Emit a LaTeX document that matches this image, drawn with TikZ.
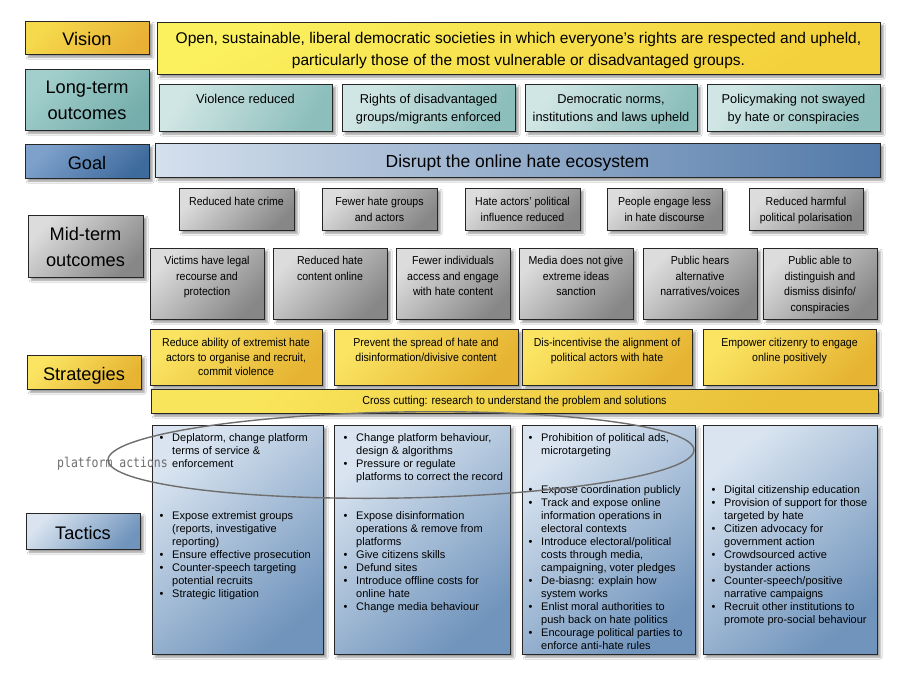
\documentclass[tikz,border=0pt]{standalone}
\usepackage{fontspec}
\setmainfont{Liberation Sans}
\newfontfamily\nfont[FakeStretch=0.92]{Liberation Sans}
\newfontfamily\handf[FakeStretch=0.85]{DejaVu Sans Mono}
\usetikzlibrary{shadows.blur,shapes.geometric}

\definecolor{VisLA}{HTML}{F6DA4C}\definecolor{VisLB}{HTML}{E8B136}
\definecolor{VisBA}{HTML}{FBF05E}\definecolor{VisBB}{HTML}{F3D13C}
\definecolor{LtLA}{HTML}{A2CFCC}\definecolor{LtLB}{HTML}{74ADAB}
\definecolor{LtBA}{HTML}{D0E6E4}\definecolor{LtBB}{HTML}{8CBEBC}
\definecolor{GoLA}{HTML}{7EA1CB}\definecolor{GoLB}{HTML}{3E6B9D}
\definecolor{GoBA}{HTML}{D5E0ED}\definecolor{GoBB}{HTML}{5279A8}
\definecolor{MidA}{HTML}{DCDCDC}\definecolor{MidB}{HTML}{878787}
\definecolor{StA}{HTML}{FAE462}\definecolor{StB}{HTML}{E6B332}
\definecolor{CrA}{HTML}{F9E55B}\definecolor{CrB}{HTML}{E9C038}
\definecolor{TaA}{HTML}{D9E4F0}\definecolor{TaB}{HTML}{7094BC}
\definecolor{Sketch}{HTML}{6E6E6E}

\newcommand\bx[9]{%
  \node[#1, anchor=north west, minimum width={(#6)-(#4)}, minimum height={(#7)-(#5)}] (#3) at (#4,#5) {};
  \node[#2] (#3t) at ({((#4)+(#6))/2},#8) {#9};
}
\newcommand\tl[1]{\begin{tabular}{@{}p{12.5pt}@{}l@{}}#1\end{tabular}}

\tikzset{
  base/.style={draw=black!85, line width=1.4pt, inner sep=0pt,
    blur shadow={shadow xshift=2.5pt, shadow yshift=-2.5pt, shadow blur radius=2pt, shadow opacity=40}},
  labvis/.style={base, top color=VisLA, bottom color=VisLB, shading angle=45},
  lablt/.style={base, top color=LtLA, bottom color=LtLB, shading angle=45},
  labgoal/.style={base, top color=GoLA, bottom color=GoLB, shading angle=45},
  labmid/.style={base, top color=MidA, bottom color=MidB, shading angle=45},
  labstrat/.style={base, top color=StA, bottom color=StB, shading angle=45},
  labtac/.style={base, top color=TaA, bottom color=TaB, shading angle=45},
  visbar/.style={base, top color=VisBA, bottom color=VisBB, shading angle=30},
  ltbox/.style={base, top color=LtBA, bottom color=LtBB, shading angle=60},
  goalbar/.style={base, left color=GoBA, right color=GoBB},
  midbox/.style={base, top color=MidA, bottom color=MidB, shading angle=45},
  stratbox/.style={base, top color=StA, bottom color=StB, shading angle=45},
  crossbox/.style={base, top color=CrA, bottom color=CrB, shading angle=45},
  tacbox/.style={base, top color=TaA, bottom color=TaB, shading angle=40},
  ctext/.style={anchor=north, inner sep=0pt, align=center, text=black},
  labt/.style={ctext, font=\fontsize{18.2}{26}\selectfont},
  vist/.style={ctext, font=\fontsize{15.5}{22}\selectfont},
  ltt/.style={ctext, font=\fontsize{12.8}{18}\selectfont},
  goalt/.style={ctext, font=\fontsize{17.5}{22}\selectfont},
  midt/.style={ctext, font=\nfont\fontsize{11.5}{15.5}\selectfont},
  stratt/.style={ctext, font=\nfont\fontsize{11.5}{14.7}\selectfont},
  crosst/.style={ctext, font=\nfont\fontsize{11.6}{14}\selectfont},
  tact/.style={anchor=north west, inner sep=0pt, text=black, font=\fontsize{11}{13}\selectfont},
}

\begin{document}
\begin{tikzpicture}[x=1pt, y=-1pt]
\useasboundingbox[fill=white] (0,0) rectangle (904,682);

% left labels
\bx{labvis}{labt}{visL}{25}{21}{149}{54}{32}{Vision}
\bx{lablt}{labt}{ltL}{25}{69}{149}{130}{81}{Long-term\\outcomes}
\bx{labgoal}{labt}{goalL}{25}{144}{149}{178}{156}{Goal}
\bx{labmid}{labt}{midL}{28}{215}{143}{277}{227}{Mid-term\\outcomes}
\bx{labstrat}{labt}{stratL}{27}{355}{141}{389}{367}{Strategies}
\bx{labtac}{labt}{tacL}{26}{513}{140}{549}{526}{Tactics}

% vision
\bx{visbar}{vist}{vis}{157}{22}{880}{74}{32.5}{Open, sustainable, liberal democratic societies in which everyone’s rights are respected and upheld,\\particularly those of the most vulnerable or disadvantaged groups.}

% long-term outcomes
\bx{ltbox}{ltt}{lt1}{159}{84}{332}{131}{94}{Violence reduced}
\bx{ltbox}{ltt}{lt2}{342}{84}{515}{131}{94}{Rights of disadvantaged\\groups/migrants enforced}
\bx{ltbox}{ltt}{lt3}{525}{84}{697}{131}{94}{Democratic norms,\\institutions and laws upheld}
\bx{ltbox}{ltt}{lt4}{707}{84}{880}{131}{94}{Policymaking not swayed\\by hate or conspiracies}

% goal
\bx{goalbar}{goalt}{goal}{155}{143}{880}{177}{155}{Disrupt the online hate ecosystem}

% mid-term row 1
\bx{midbox}{midt}{m1}{179}{188}{294}{230}{197}{Reduced hate crime}
\bx{midbox}{midt}{m2}{322}{188}{437}{230}{197}{Fewer hate groups\\and actors}
\bx{midbox}{midt}{m3}{465}{188}{580}{230}{197}{Hate actors’ political\\influence reduced}
\bx{midbox}{midt}{m4}{607}{188}{722}{230}{197}{People engage less\\in hate discourse}
\bx{midbox}{midt}{m5}{749}{188}{863}{230}{197}{Reduced harmful\\political polarisation}

% mid-term row 2
\bx{midbox}{midt}{n1}{150}{248}{264}{319}{256}{Victims have legal\\recourse and\\protection}
\bx{midbox}{midt}{n2}{273}{248}{387}{319}{256}{Reduced hate\\content online}
\bx{midbox}{midt}{n3}{396}{248}{510}{319}{256}{Fewer individuals\\access and engage\\with hate content}
\bx{midbox}{midt}{n4}{519}{248}{633}{319}{256}{Media does not give\\extreme ideas\\sanction}
\bx{midbox}{midt}{n5}{643}{248}{757}{319}{256}{Public hears\\alternative\\narratives/voices}
\bx{midbox}{midt}{n6}{763}{248}{877}{319}{256}{Public able to\\distinguish and\\dismiss disinfo/\\conspiracies}

% strategies
\bx{stratbox}{stratt}{s1}{150}{329}{322}{385}{338}{Reduce ability of extremist hate\\actors to organise and recruit,\\commit violence}
\bx{stratbox}{stratt}{s2}{334}{329}{518}{385}{338}{Prevent the spread of hate and\\disinformation/divisive content}
\bx{stratbox}{stratt}{s3}{522}{329}{692}{385}{338}{Dis-incentivise the alignment of\\political actors with hate}
\bx{stratbox}{stratt}{s4}{703}{329}{876}{385}{338}{Empower citizenry to engage\\online positively}
\bx{crossbox}{crosst}{cross}{151}{389}{878}{413}{396}{Cross cutting: research to understand the problem and solutions}

% tactics columns
\bx{tacbox}{tact}{t1}{152}{425}{323}{654}{430}{}
\bx{tacbox}{tact}{t2}{334}{425}{510}{654}{430}{}
\bx{tacbox}{tact}{t3}{522}{425}{695}{654}{430}{}
\bx{tacbox}{tact}{t4}{703}{425}{877}{654}{430}{}

\node[tact] (t1a) at (159.5,431.9) {\tl{\textbullet & Deplatorm, change platform\\ & terms of service \&\\ & enforcement}};
\node[tact] (t1b) at (159.5,509.9) {\tl{\textbullet & Expose extremist groups\\ & (reports, investigative\\ & reporting)\\
\textbullet & Ensure effective prosecution\\
\textbullet & Counter-speech targeting\\ & potential recruits\\
\textbullet & Strategic litigation}};

\node[tact] (t2a) at (343.5,431.9) {\tl{\textbullet & Change platform behaviour,\\ & design \& algorithms\\
\textbullet & Pressure or regulate\\ & platforms to correct the record}};
\node[tact] (t2b) at (343.5,509.9) {\tl{\textbullet & Expose disinformation\\ & operations \& remove from\\ & platforms\\
\textbullet & Give citizens skills\\
\textbullet & Defund sites\\
\textbullet & Introduce offline costs for\\ & online hate\\
\textbullet & Change media behaviour}};

\node[tact] (t3a) at (528.5,431.9) {\tl{\textbullet & Prohibition of political ads,\\ & microtargeting}};
\node[tact] (t3b) at (528.5,483.9) {\tl{\textbullet & Expose coordination publicly\\
\textbullet & Track and expose online\\ & information operations in\\ & electoral contexts\\
\textbullet & Introduce electoral/political\\ & costs through media,\\ & campaigning, voter pledges\\
\textbullet & De-biasng: explain how\\ & system works\\
\textbullet & Enlist moral authorities to\\ & push back on hate politics\\
\textbullet & Encourage political parties to\\ & enforce anti-hate rules}};

\node[tact] (t4a) at (711.5,483.9) {\tl{\textbullet & Digital citizenship education\\
\textbullet & Provision of support for those\\ & targeted by hate\\
\textbullet & Citizen advocacy for\\ & government action\\
\textbullet & Crowdsourced active\\ & bystander actions\\
\textbullet & Counter-speech/positive\\ & narrative campaigns\\
\textbullet & Recruit other institutions to\\ & promote pro-social behaviour}};

% platform actions ellipse
\node[draw=Sketch, line width=1.4pt, ellipse, minimum width=586, minimum height=86, rotate=1, inner sep=0pt] (plat) at (401,455) {};
\node[anchor=base west, inner sep=0pt, text=Sketch, font=\handf\fontsize{13.5}{15}\selectfont] (platlab) at (57,467) {platform actions};
\end{tikzpicture}
\end{document}
